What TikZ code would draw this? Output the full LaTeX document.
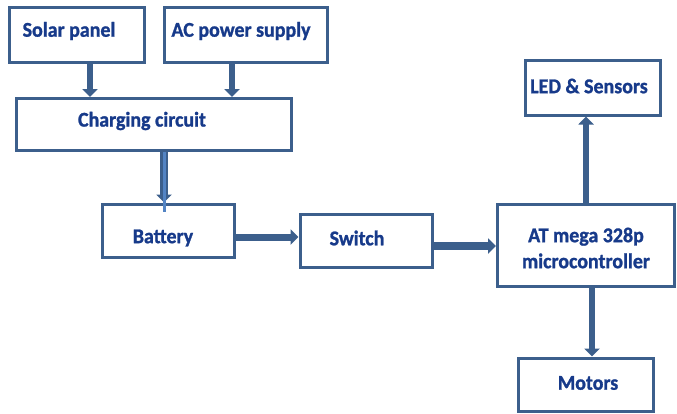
\documentclass[tikz,border=0pt]{standalone}
\usepackage{fontspec}
\setmainfont{Carlito}[BoldFeatures={FakeBold=1.2, FakeStretch=0.95}]
\usetikzlibrary{arrows.meta}
\definecolor{boxc}{HTML}{3C5F8C}
\definecolor{txtc}{HTML}{173A8A}
\definecolor{litec}{HTML}{5384C4}
\tikzset{
  box/.style={draw=boxc, line width=3pt, inner sep=0pt, outer sep=1.5pt, rectangle},
  lbl/.style={text=txtc, font=\fontsize{21}{22}\selectfont\bfseries, inner sep=0pt},
  arr/.style={draw=boxc, line width=6.5pt, -{Triangle[width=15pt,length=8pt]}},
}
\begin{document}
\begin{tikzpicture}[x=1pt,y=-1pt]
\useasboundingbox (0,0) rectangle (677,413);
% boxes
\node[box, minimum width=135pt, minimum height=55pt] (solar) at (76.5,34.5) {};
\node[box, minimum width=163pt, minimum height=55pt] (ac) at (245.5,34.5) {};
\node[box, minimum width=275pt, minimum height=52pt] (charge) at (154,124.5) {};
\node[box, minimum width=132pt, minimum height=53pt] (battery) at (168.5,230.5) {};
\node[box, minimum width=132pt, minimum height=53pt] (switch) at (366,240.5) {};
\node[box, minimum width=177pt, minimum height=82pt] (at) at (586,245) {};
\node[box, minimum width=135pt, minimum height=55pt] (led) at (592.5,87.5) {};
\node[box, minimum width=135pt, minimum height=53pt] (motors) at (585.5,384.5) {};
% labels
\node[lbl] (tsolar) at (69,31) {Solar panel};
\node[lbl] (tac) at (241,31) {AC power supply};
\node[lbl] (tcharge) at (142,121) {Charging circuit};
\node[lbl] (tbattery) at (163,238) {Battery};
\node[lbl] (tswitch) at (357,238) {Switch};
\node[lbl, align=center] (tat) at (586,248) {AT mega 328p\\[4pt]microcontroller};
\node[lbl] (tled) at (589,86) {LED \& Sensors};
\node[lbl] (tmotors) at (588,383) {Motors};
% helper coordinates
\coordinate (x1) at (90,0);
\coordinate (x2) at (232,0);
\coordinate (x3) at (164,0);
\coordinate (y1) at (0,237);
\coordinate (y2) at (0,246);
\coordinate (x4) at (586,0);
\coordinate (x5) at (592,0);
% connectors
\draw[arr] (solar.south -| x1) -- (charge.north -| x1);
\draw[arr] (ac.south -| x2) -- (charge.north -| x2);
\draw[arr, line width=8pt] (charge.south -| x3) -- (battery.north -| x3);
\draw[litec, line width=3pt] (charge.south -| x3) -- ([yshift=-9pt]battery.north -| x3);
\draw[arr, line width=7pt] (battery.east |- y1) -- (switch.west |- y1);
\draw[arr, line width=7.5pt] (switch.east |- y2) -- (at.west |- y2);
\draw[arr, line width=6pt] (at.north -| x4) -- (led.south -| x4);
\draw[arr, line width=5.5pt] (at.south -| x5) -- (motors.north -| x5);
\end{tikzpicture}
\end{document}
